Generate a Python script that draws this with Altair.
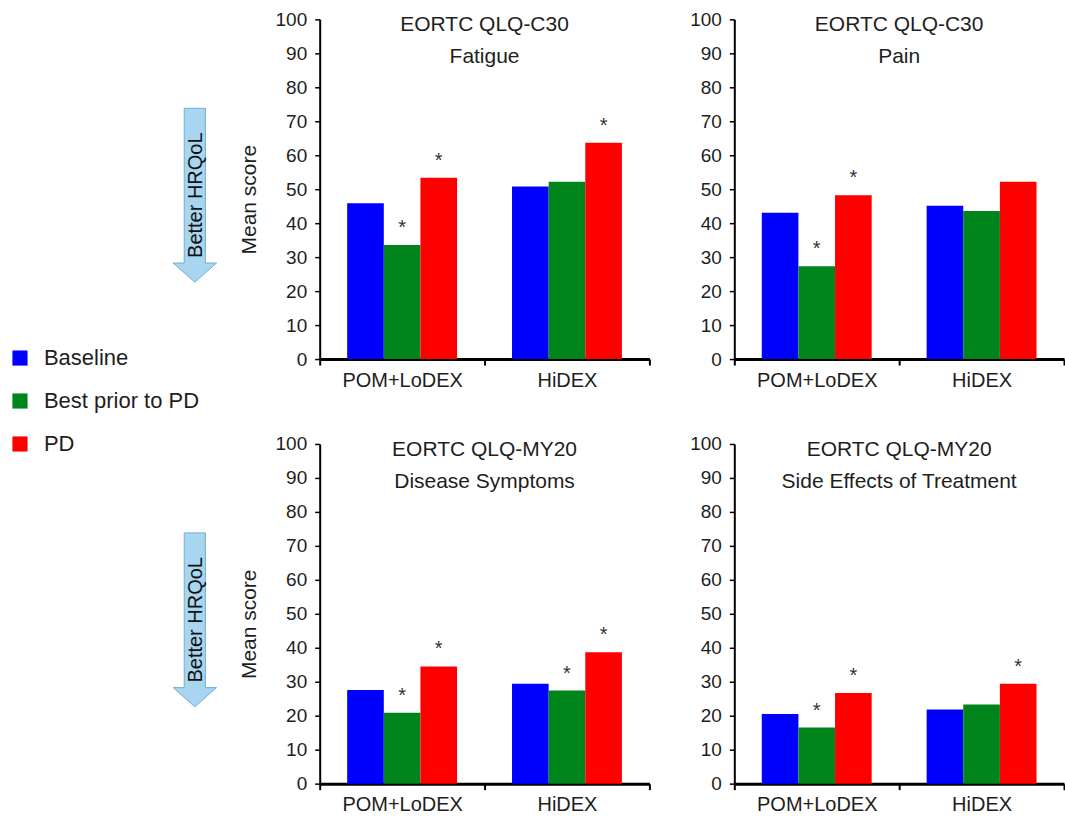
import altair as alt
import pandas as pd

categories = ["POM+LoDEX", "HiDEX"]
series = ["Baseline", "Best prior to PD", "PD"]
colors = ["#0000FF", "#00841C", "#FF0000"]

panel_titles = [
    ["EORTC QLQ-C30", "Fatigue"],
    ["EORTC QLQ-C30", "Pain"],
    ["EORTC QLQ-MY20", "Disease Symptoms"],
    ["EORTC QLQ-MY20", "Side Effects of Treatment"],
]

# mean scores: [POM+LoDEX, HiDEX]
fatigue_baseline = [45.9, 50.8]
fatigue_best = [33.6, 52.2]
fatigue_pd = [53.4, 63.7]
pain_baseline = [43.1, 45.1]
pain_best = [27.3, 43.6]
pain_pd = [48.2, 52.2]
disease_baseline = [27.6, 29.4]
disease_best = [20.9, 27.4]
disease_pd = [34.5, 38.7]
side_baseline = [20.5, 21.8]
side_best = [16.5, 23.3]
side_pd = [26.7, 29.4]

# significance marker (*) flags: [POM+LoDEX, HiDEX]
fatigue_star = {"Baseline": [0, 0], "Best prior to PD": [1, 0], "PD": [1, 1]}
pain_star = {"Baseline": [0, 0], "Best prior to PD": [1, 0], "PD": [1, 0]}
disease_star = {"Baseline": [0, 0], "Best prior to PD": [1, 1], "PD": [1, 1]}
side_star = {"Baseline": [0, 0], "Best prior to PD": [1, 0], "PD": [1, 1]}

y_ticks = list(range(0, 101, 10))
y_axis_title = "Mean score"
arrow_label = "Better HRQoL"

panels_values = [
    (fatigue_baseline, fatigue_best, fatigue_pd, fatigue_star),
    (pain_baseline, pain_best, pain_pd, pain_star),
    (disease_baseline, disease_best, disease_pd, disease_star),
    (side_baseline, side_best, side_pd, side_star),
]

rows = []
for p, (b, bp, pd_, st) in enumerate(panels_values):
    for s, vals in zip(series, [b, bp, pd_]):
        for ci, c in enumerate(categories):
            rows.append({"panel": p, "treatment": c, "series": s,
                         "value": vals[ci], "star": st[s][ci]})
df = pd.DataFrame(rows)

W, H = 330, 340
TXT = "#1e1e1e"

arrow_path = ("M -0.122 -1 L 0.122 -1 L 0.122 0.78 L 0.25 0.78 L 0 1 "
              "L -0.25 0.78 L -0.122 0.78 Z")


def make_panel(idx, left):
    d = df[df["panel"] == idx]
    x_enc = alt.X(
        "treatment:N", sort=categories,
        scale=alt.Scale(domain=categories, paddingInner=0, paddingOuter=0),
        axis=alt.Axis(title=None, labelAngle=0, tickBand="extent",
                      domainWidth=3, domainColor="#000", tickColor="#000",
                      tickWidth=2, tickSize=6, labelFontSize=20,
                      labelPadding=5, labelColor=TXT, grid=False),
    )
    xo = alt.XOffset("series:N", sort=series,
                     scale=alt.Scale(domain=series, paddingInner=0,
                                     paddingOuter=0.75))
    y_axis = alt.Axis(values=y_ticks, grid=False, domainWidth=2,
                      domainColor="#000", tickColor="#000", tickWidth=1.5,
                      tickSize=5, labelFontSize=19, labelPadding=8,
                      labelColor=TXT, title=y_axis_title if left else None,
                      titleFontSize=21, titleFontWeight="normal",
                      titleColor=TXT, titleAngle=270, titleX=-60,
                      titleY=180, titleBaseline="bottom")
    y_enc = alt.Y("value:Q", scale=alt.Scale(domain=[0, 100], nice=False),
                  axis=y_axis)
    color = alt.Color(
        "series:N", sort=series,
        scale=alt.Scale(domain=series, range=colors),
        legend=alt.Legend(orient="none", legendX=-311, legendY=328,
                          title=None, labelFontSize=22, labelColor=TXT,
                          symbolType="square", symbolSize=230,
                          symbolStrokeWidth=0, symbolOpacity=1,
                          rowPadding=21, labelOffset=13, padding=0),
    )
    base = alt.Chart(d)
    bars = base.mark_bar().encode(x=x_enc, xOffset=xo, y=y_enc, color=color)
    stars = base.transform_filter("datum.star == 1").mark_text(
        text="*", fontSize=20, baseline="alphabetic", dy=-11, color="#333"
    ).encode(x=x_enc, xOffset=xo, y=y_enc)
    tdf = pd.DataFrame({"panel": [idx]})
    title = alt.Chart(tdf).mark_text(
        text=panel_titles[idx], fontSize=21, lineHeight=32,
        baseline="alphabetic", align="center", color=TXT
    ).encode(x=alt.value(W / 2), y=alt.value(12))
    layers = [bars, stars, title]
    if left:
        arrow = alt.Chart(tdf).mark_point(
            shape=arrow_path, size=174 * 174, filled=True, fill="#A8D5EF",
            stroke="#6FAED6", strokeWidth=1, opacity=1
        ).encode(x=alt.value(-125), y=alt.value(176))
        alabel = alt.Chart(tdf).mark_text(
            text=arrow_label, angle=270, fontSize=20, color="#111",
            baseline="middle", align="center"
        ).encode(x=alt.value(-124), y=alt.value(176))
        layers = [arrow, alabel] + layers
    return alt.layer(*layers).properties(width=W, height=H)


chart = alt.concat(
    make_panel(0, True), make_panel(1, False),
    make_panel(2, True), make_panel(3, False),
    columns=2, spacing={"row": 85, "column": 85}, bounds="flush",
).resolve_scale(color="shared").properties(
    padding={"left": 9, "top": 10, "right": 0, "bottom": 0}
).configure(font="Liberation Sans").configure_view(stroke=None)

chart.save("out.html", embed_options={"renderer": "svg", "actions": False})
